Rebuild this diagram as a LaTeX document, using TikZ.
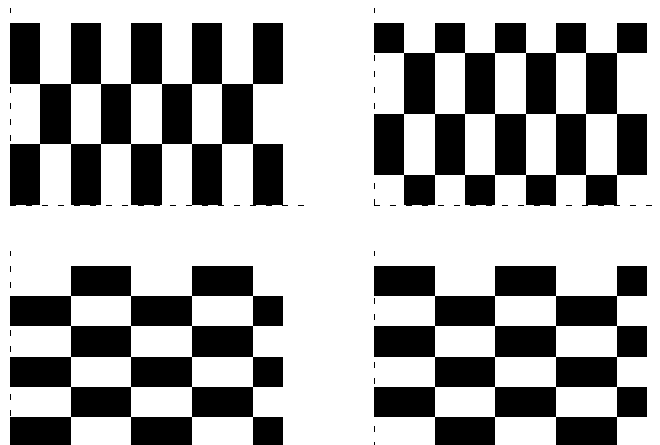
\documentclass[tikz,border=0pt]{standalone}
\usepackage{tikz}
\newcommand{\blk}[4]{\fill[cell] (#1,#3) rectangle (#2,#4);}

\begin{document}
\begin{tikzpicture}[x=1cm, y=1cm,
  cell/.style={fill=black},
  guide/.style={draw, line width=0.55pt, dash pattern=on 5.6pt off 9.4pt}]
\useasboundingbox (-0.33,-7.91) rectangle (21.43,6.76);
% ---- the axes of the four panels (drawn first, the blocks cover them) ----------------------------
\draw[guide] (0,0) -- (0,6.5);
\draw[guide] (0,0) -- (9.7,0);
\draw[guide] (12,0) -- (12,6.5);
\draw[guide] (12,0) -- (21.2,0);
\draw[guide] (0,-8) -- (0,-1.5);
\draw[guide] (12,-8) -- (12,-1.5);
% ---- top left: upright bricks 1 x 2, rows on 0 -- 2 -- 4 -- 6 ------------------------------------
\blk{0}{1}{4}{6} \blk{2}{3}{4}{6} \blk{4}{5}{4}{6} \blk{6}{7}{4}{6} \blk{8}{9}{4}{6}
\blk{1}{2}{2}{4} \blk{3}{4}{2}{4} \blk{5}{6}{2}{4} \blk{7}{8}{2}{4}
\blk{0}{1}{0}{2} \blk{2}{3}{0}{2} \blk{4}{5}{0}{2} \blk{6}{7}{0}{2} \blk{8}{9}{0}{2}
% ---- top right: the same bricks moved up by one, rows on 0 -- 1 -- 3 -- 5 -- 6 ------------------
\blk{12}{13}{5}{6} \blk{14}{15}{5}{6} \blk{16}{17}{5}{6} \blk{18}{19}{5}{6} \blk{20}{21}{5}{6}
\blk{13}{14}{3}{5} \blk{15}{16}{3}{5} \blk{17}{18}{3}{5} \blk{19}{20}{3}{5}
\blk{12}{13}{1}{3} \blk{14}{15}{1}{3} \blk{16}{17}{1}{3} \blk{18}{19}{1}{3} \blk{20}{21}{1}{3}
\blk{13}{14}{0}{1} \blk{15}{16}{0}{1} \blk{17}{18}{0}{1} \blk{19}{20}{0}{1}
% ---- bottom left: lying bricks 2 x 1 --------------------------------------------------------------
\blk{2}{4}{-3}{-2} \blk{6}{8}{-3}{-2}
\blk{0}{2}{-4}{-3} \blk{4}{6}{-4}{-3} \blk{8}{9}{-4}{-3}
\blk{2}{4}{-5}{-4} \blk{6}{8}{-5}{-4}
\blk{0}{2}{-6}{-5} \blk{4}{6}{-6}{-5} \blk{8}{9}{-6}{-5}
\blk{2}{4}{-7}{-6} \blk{6}{8}{-7}{-6}
\blk{0}{2}{-8}{-7} \blk{4}{6}{-8}{-7} \blk{8}{9}{-8}{-7}
% ---- bottom right: the rows swapped ----------------------------------------------------------------
\blk{12}{14}{-3}{-2} \blk{16}{18}{-3}{-2} \blk{20}{21}{-3}{-2}
\blk{14}{16}{-4}{-3} \blk{18}{20}{-4}{-3}
\blk{12}{14}{-5}{-4} \blk{16}{18}{-5}{-4} \blk{20}{21}{-5}{-4}
\blk{14}{16}{-6}{-5} \blk{18}{20}{-6}{-5}
\blk{12}{14}{-7}{-6} \blk{16}{18}{-7}{-6} \blk{20}{21}{-7}{-6}
\blk{14}{16}{-8}{-7} \blk{18}{20}{-8}{-7}
\end{tikzpicture}
\end{document}
